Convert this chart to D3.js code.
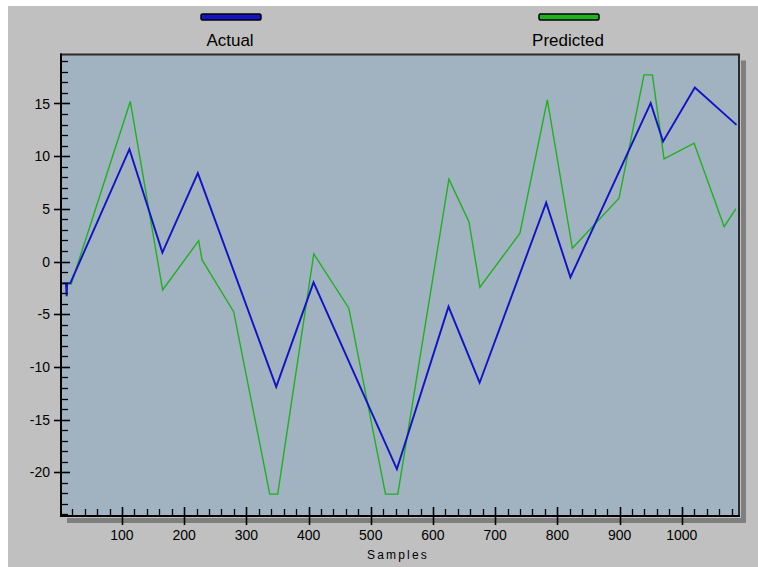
<!DOCTYPE html>
<html><head><meta charset="utf-8">
<script src="https://cdn.jsdelivr.net/npm/d3@7"></script>
<style>
html,body{margin:0;padding:0;background:#fff;}
svg{display:block;}
text{font-family:"Liberation Sans",Arial,sans-serif;fill:#000;}
</style></head>
<body>
<svg id="chart" width="758" height="567"></svg>
<script>
// ---- data ----
const seriesNames = ["Actual", "Predicted"];
const seriesColors = ["#1212c6", "#20b020"];
const actualX = [4, 10, 11, 12, 17, 112, 165, 222, 348, 408, 542, 625, 675, 782, 821, 950, 970, 1021, 1088];
const actualY = [-2.05, -2.05, -3.3, -2.05, -2.05, 10.66, 0.85, 8.39, -11.9, -1.98, -19.7, -4.28, -11.5, 5.59, -1.5, 15.03, 11.39, 16.51, 12.97];
const predictedX = [3, 18.5, 113.4, 165.4, 223.3, 228.8, 279.6, 337.6, 350.4, 408.4, 464.7, 523.7, 543.5, 625.6, 657.8, 675.5, 739.8, 783.9, 824.1, 899.1, 939.3, 952.8, 971.5, 1019.8, 1068.1, 1086.9];
const predictedY = [-2.13, -2.13, 15.19, -2.7, 1.98, 0.15, -4.76, -22.07, -22.07, 0.72, -4.43, -22.07, -22.07, 7.82, 3.79, -2.44, 2.69, 15.35, 1.26, 6.01, 17.72, 17.72, 9.74, 11.23, 3.31, 5.0];
const yTicks = [-20, -15, -10, -5, 0, 5, 10, 15];
const yMinorTicks = d3.range(-24, 20, 1);
const xTicks = [100, 200, 300, 400, 500, 600, 700, 800, 900, 1000];
const xMinorTicks = d3.range(20, 1092, 20);
const xTitle = "Samples";

// ---- layout ----
const svg = d3.select("#chart");
const L = 61, R = 739, T = 54.5, B = 516;
const x = d3.scaleLinear().domain([2, 1092]).range([L, R]);
const y = d3.scaleLinear().domain([-24.15, 19.65]).range([B, T]);

// outer panel
svg.append("rect").attr("x", 0).attr("y", 0).attr("width", 758).attr("height", 567).attr("fill", "#ffffff");
svg.append("rect").attr("x", 8).attr("y", 6).attr("width", 750).attr("height", 561).attr("fill", "#c0c0c0");

// shadow
svg.append("rect").attr("x", R + 2).attr("y", T + 6).attr("width", 5).attr("height", B - T).attr("fill", "#7f7f7f");
svg.append("rect").attr("x", L + 6).attr("y", B + 2).attr("width", R - L + 1).attr("height", 5).attr("fill", "#7f7f7f");

// plot area
svg.append("rect").attr("x", L).attr("y", T).attr("width", R - L).attr("height", B - T)
  .attr("fill", "#a1b2c1").attr("stroke", "#2a2a2a").attr("stroke-width", 2);

// lines
const clip = svg.append("clipPath").attr("id", "clip").append("rect")
  .attr("x", L + 1).attr("y", T + 1).attr("width", R - L - 2).attr("height", B - T - 2);
const line = d3.line().x(d => x(d[0])).y(d => y(d[1]));
const g = svg.append("g").attr("clip-path", "url(#clip)");
g.append("path").datum(predictedX.map((v, i) => [v, predictedY[i]]))
  .attr("d", line).attr("fill", "none").attr("stroke", seriesColors[1]).attr("stroke-width", 1.4);
g.append("path").datum(actualX.map((v, i) => [v, actualY[i]]))
  .attr("d", line).attr("fill", "none").attr("stroke", seriesColors[0]).attr("stroke-width", 1.9);

// axes lines
svg.append("line").attr("x1", L).attr("x2", L).attr("y1", T - 1).attr("y2", B + 1).attr("stroke", "#000").attr("stroke-width", 2);
svg.append("line").attr("x1", L - 1).attr("x2", R + 1).attr("y1", B).attr("y2", B).attr("stroke", "#000").attr("stroke-width", 2);

// y ticks
const yAx = svg.append("g");
yMinorTicks.forEach(v => {
  const isMajor = yTicks.includes(v);
  yAx.append("line").attr("x1", isMajor ? L - 7 : L).attr("x2", isMajor ? L + 9 : L + 7)
    .attr("y1", Math.round(y(v)) + 0.5).attr("y2", Math.round(y(v)) + 0.5)
    .attr("stroke", "#000").attr("stroke-width", isMajor ? 1.6 : 1.3);
});
yTicks.forEach(v => {
  yAx.append("text").attr("x", L - 11).attr("y", y(v)).attr("dy", "0.36em")
    .attr("text-anchor", "end").attr("font-size", 14).text(String(v));
});

// x ticks
const xAx = svg.append("g");
xMinorTicks.forEach(v => {
  const isMajor = xTicks.includes(v);
  xAx.append("line").attr("x1", Math.round(x(v)) + 0.5).attr("x2", Math.round(x(v)) + 0.5)
    .attr("y1", isMajor ? B - 9 : B - 7).attr("y2", isMajor ? B + 9 : B)
    .attr("stroke", "#000").attr("stroke-width", isMajor ? 1.6 : 1.3);
});
xTicks.forEach(v => {
  xAx.append("text").attr("x", x(v)).attr("y", 540)
    .attr("text-anchor", "middle").attr("font-size", 14).text(String(v));
});
svg.append("text").attr("x", 398).attr("y", 559).attr("text-anchor", "middle")
  .attr("font-size", 12).attr("letter-spacing", "2.2px").text(xTitle);

// legend
const legendCx = [230, 568];
seriesNames.forEach((name, i) => {
  const cx = legendCx[i];
  svg.append("rect").attr("x", cx - 29).attr("y", 14).attr("width", 60).attr("height", 6).attr("rx", 1.5)
    .attr("fill", seriesColors[i]).attr("stroke", "#000").attr("stroke-width", 1.5);
  svg.append("text").attr("x", cx).attr("y", 46).attr("text-anchor", "middle")
    .attr("font-size", 17).text(name);
});
</script>
</body></html>
